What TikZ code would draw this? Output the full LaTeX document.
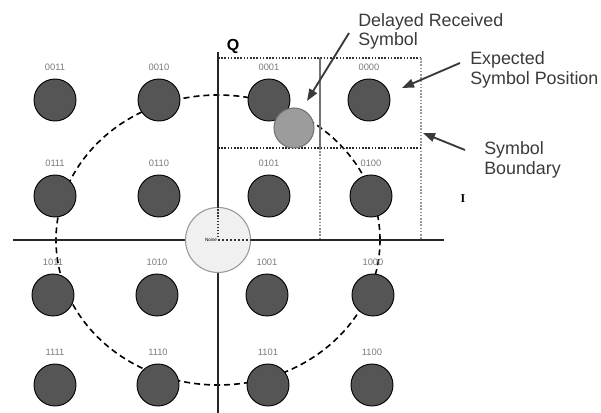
\documentclass[tikz,border=0pt]{standalone}
\usepackage{fontspec}
\setmainfont{Liberation Sans}
\newfontfamily\serifbf{Liberation Serif}
\usetikzlibrary{arrows.meta}

\definecolor{symgray}{HTML}{555555}
\definecolor{rxgray}{HTML}{9C9C9C}
\definecolor{bitgray}{HTML}{7A7A7A}
\definecolor{anngray}{HTML}{3A3A3A}
\definecolor{noisefill}{HTML}{F0F0F0}

\tikzset{
  sym/.style={shape=circle, draw=black, fill=symgray, line width=0.7pt,
    minimum size=31.5pt, inner sep=0pt},
  bits/.style={font=\fontsize{7}{8}\selectfont, text=bitgray, inner sep=0pt},
  ann/.style={font=\fontsize{13.4}{14.6}\selectfont, text=anngray, align=left,
    inner sep=0pt},
  pointer/.style={draw=anngray, line width=1.4pt, -{Triangle[length=9pt,width=6.5pt]}},
  axisline/.style={draw=black!85, line width=1.4pt},
  ring/.style={draw=black, line width=1.2pt, dash pattern=on 4.5pt off 3pt},
  boxdot/.style={line width=0.9pt, dash pattern=on 1.2pt off 1.2pt},
}

\begin{document}
\begin{tikzpicture}[x=0.75pt, y=-0.75pt, every label/.style={bits}, label distance=5.5pt]
  \useasboundingbox (0,0) rectangle (601,413);

  % constellation ring
  \draw[ring] (218,240) ellipse [x radius=121.5pt, y radius=108.75pt];

  % symbol boundaries
  \draw[boxdot, draw=black!80] (218,58) -- (421,58);
  \draw[boxdot, draw=black!40] (421,58) -- (421,240);
  \draw[boxdot, draw=black!85] (218,148) -- (421,148);
  \draw[draw=black!55, line width=1pt] (320,58) -- (320,148);
  \draw[boxdot, draw=black!45] (320,148) -- (320,240);

  % axes
  \draw[axisline] (13,240) -- (444,240);
  \draw[axisline] (218,52) -- (218,413);
  \node[font=\fontsize{12}{14}\selectfont\bfseries] (Q) at (233,46) {Q};
  \node[font=\fontsize{9}{10}\serifbf\bfseries] (I) at (463,199) {I};

  % noise
  \node[shape=circle, draw=black!40, fill=noisefill, line width=0.8pt,
    minimum size=48.75pt, inner sep=0pt] (noise) at (218,240) {};
  \draw[black!80, line width=0.8pt, dash pattern=on 1pt off 1.2pt] (noise.center) -- (noise.north);
  \draw[black!80, line width=0.8pt, dash pattern=on 1.5pt off 1.5pt] (noise.center) -- (noise.east);
  \node[font=\fontsize{3.5}{4}\selectfont, inner sep=0.5pt, fill=noisefill] (noisetxt) at (211,240) {Noise};

  % symbols
  \node[sym, label={above:0011}] (s0011) at (55,100) {};
  \node[sym, label={above:0010}] (s0010) at (159,100) {};
  \node[sym, label={above:0001}] (s0001) at (269,100) {};
  \node[sym, label={above:0000}] (s0000) at (369,100) {};
  \node[sym, label={above:0111}] (s0111) at (55,196) {};
  \node[sym, label={above:0110}] (s0110) at (159,196) {};
  \node[sym, label={above:0101}] (s0101) at (269,196) {};
  \node[sym, label={above:0100}] (s0100) at (371,196) {};
  \node[sym, label={above:1011}] (s1011) at (53,295) {};
  \node[sym, label={above:1010}] (s1010) at (157,295) {};
  \node[sym, label={above:1001}] (s1001) at (267,295) {};
  \node[sym, label={above:1000}] (s1000) at (373,295) {};
  \node[sym, label={above:1111}] (s1111) at (55,385) {};
  \node[sym, label={above:1110}] (s1110) at (158,385) {};
  \node[sym, label={above:1101}] (s1101) at (268,385) {};
  \node[sym, label={above:1100}] (s1100) at (372,385) {};

  % delayed received symbol
  \node[shape=circle, draw=black!55, fill=rxgray, line width=0.8pt,
    minimum size=30pt, inner sep=0pt] (rx) at (294,128) {};

  % annotations
  \node[ann, anchor=north west] (dly) at (358,13) {Delayed Received\\Symbol};
  \node[ann, anchor=north west] (exp) at (470,51.5) {Expected\\Symbol Position};
  \node[ann, anchor=north west] (bnd) at (484,141.5) {Symbol\\Boundary};

  \coordinate (dlytail) at (349,33);
  \coordinate (dlyhead) at (307,101);
  \coordinate (exptail) at (460,63);
  \coordinate (exphead) at (402,88);
  \coordinate (bndtail) at (465,150);
  \coordinate (bndhead) at (423,133);
  \draw[pointer] (dlytail) -- (dlyhead);
  \draw[pointer] (exptail) -- (exphead);
  \draw[pointer] (bndtail) -- (bndhead);
\end{tikzpicture}
\end{document}
